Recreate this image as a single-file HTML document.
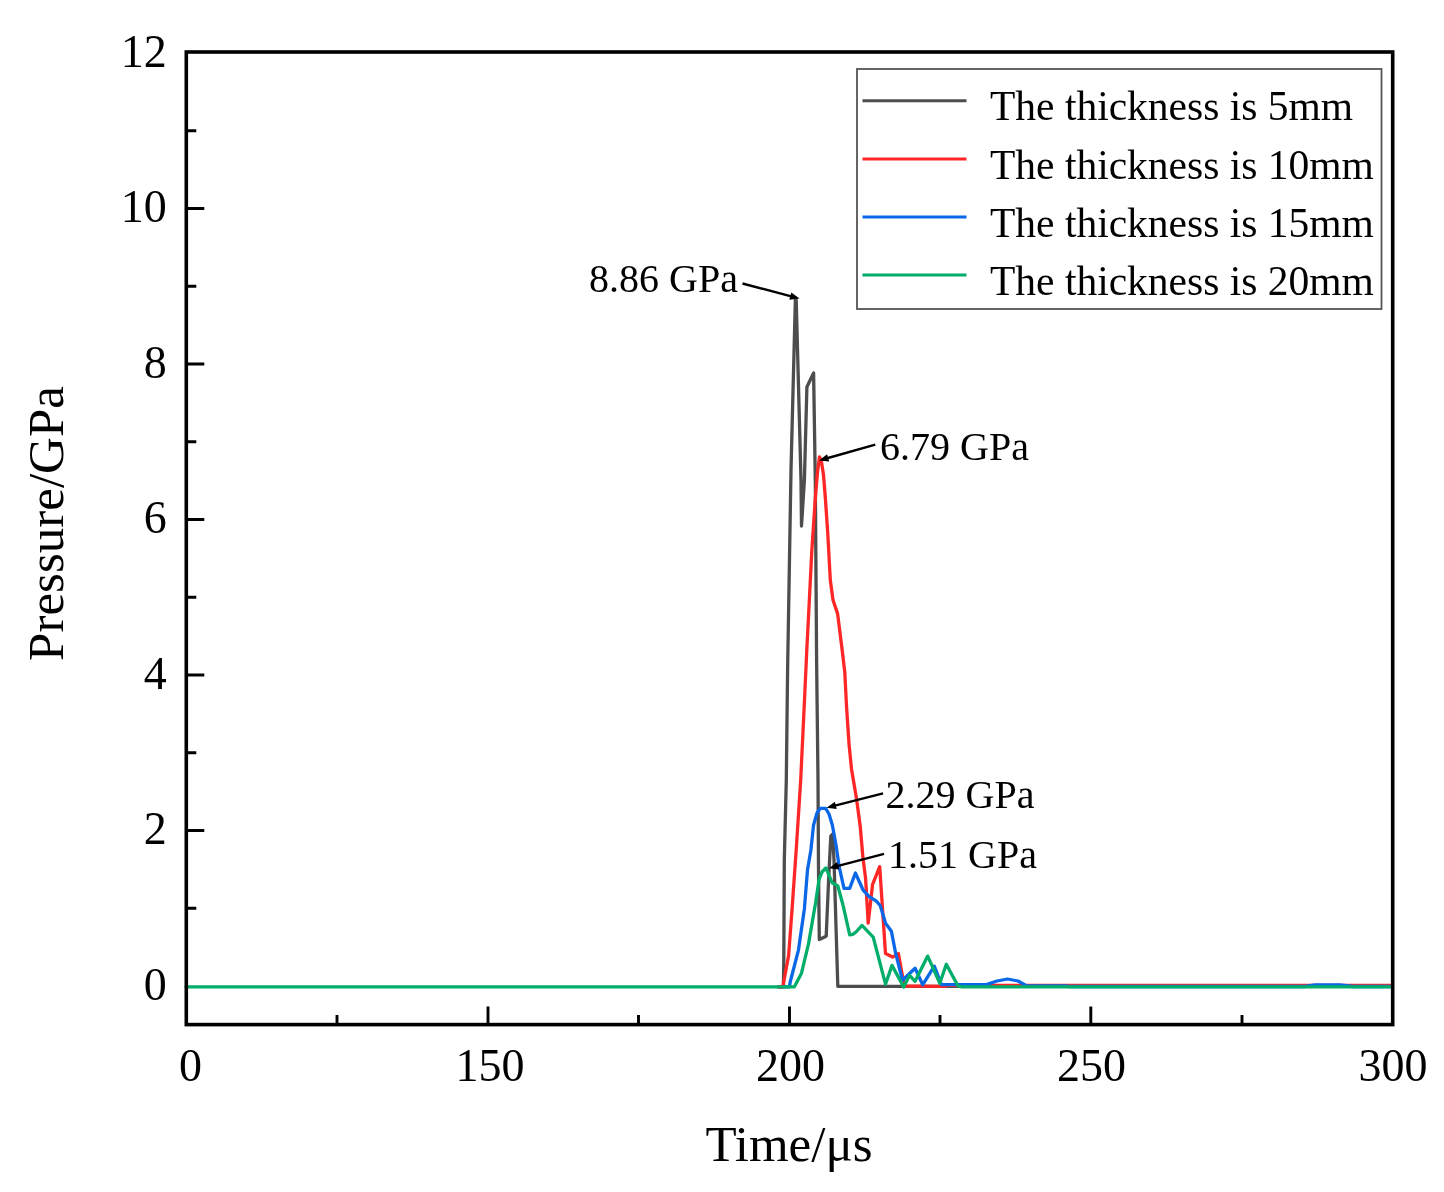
<!DOCTYPE html>
<html><head><meta charset="utf-8"><title>Pressure vs Time</title>
<style>
html,body{margin:0;padding:0;background:#fff;}
svg{display:block;filter:blur(0.45px);}
text{font-family:"Liberation Serif", "Times New Roman", serif;fill:#000;}
</style></head><body>
<svg width="1444" height="1192" viewBox="0 0 1444 1192">
<rect x="0" y="0" width="1444" height="1192" fill="#fff"/>

<g fill="none" stroke-width="3.3" stroke-linejoin="round" stroke-linecap="round">
<polyline points="778.0,986.8 783.4,986.8 783.8,960.0 784.3,860.0 786.3,780.0 787.6,670.0 791.0,470.0 795.4,298.0 796.2,300.0 801.0,480.0 801.5,526.0 804.4,480.0 806.9,387.0 813.6,373.0 815.3,480.0 816.6,660.0 818.0,780.0 818.5,870.0 819.3,939.6 826.2,936.3 828.6,880.0 830.8,836.0 832.6,834.0 834.0,860.0 837.8,986.3 965.0,986.3" stroke="#4d4d4d"/>
<polyline points="778.0,986.8 783.0,986.8 783.5,983.0 788.6,955.6 792.1,908.7 796.2,850.0 800.7,780.0 804.5,700.0 806.8,650.0 809.3,601.0 811.8,551.0 815.2,500.0 817.5,472.0 819.5,457.0 821.2,460.0 823.5,475.0 825.5,500.0 827.8,534.0 830.3,580.0 833.0,600.0 837.6,613.6 841.8,647.0 844.8,672.4 846.5,706.0 849.0,743.8 851.5,769.0 856.6,799.3 860.3,827.0 862.9,857.3 865.6,878.5 868.2,923.1 872.6,884.4 879.7,866.7 885.5,953.6 892.6,957.1 898.4,953.6 904.3,986.0 943.8,986.3 948.0,985.3 1391.0,985.3" stroke="#ff2626"/>
<polyline points="784.0,986.8 789.5,986.8 790.2,982.0 798.5,949.8 804.4,908.7 807.5,870.0 810.9,850.0 813.5,825.3 817.0,813.0 820.3,808.3 825.6,808.3 829.0,814.0 832.4,825.3 836.0,845.0 839.2,866.9 844.0,888.3 849.7,888.3 855.4,873.0 863.2,890.2 869.1,896.7 876.1,900.8 880.2,905.5 885.5,923.1 891.4,931.3 895.5,952.5 902.5,980.3 915.1,968.2 922.7,984.8 934.3,966.2 941.3,984.6 986.5,984.6 997.0,981.0 1007.6,979.0 1018.0,981.0 1026.4,985.6 1065.0,985.8 1070.0,986.5 1305.0,986.5 1315.0,984.8 1340.0,984.8 1353.0,986.5 1391.0,986.5" stroke="#0a68e8"/>
<polyline points="186.0,986.8 794.4,986.8 801.5,973.2 808.5,943.9 815.6,902.8 819.1,879.3 822.0,872.0 825.9,867.9 832.1,882.7 837.8,886.0 843.0,905.0 849.7,934.8 853.0,934.3 856.0,932.0 862.0,925.4 873.2,937.2 885.5,984.2 892.0,965.4 903.7,987.0 909.6,975.3 915.1,981.3 927.7,956.1 939.8,983.3 946.3,964.2 957.9,985.8 962.0,986.8 1391.0,986.8" stroke="#00ae6a"/>
</g>
<rect x="186.3" y="52.0" width="1206.4" height="972.6" fill="none" stroke="#000" stroke-width="3.6"/>
<path d="M186.3,908.2H196.3M186.3,830.5H204.3M186.3,752.8H196.3M186.3,675.0H204.3M186.3,597.2H196.3M186.3,519.5H204.3M186.3,441.8H196.3M186.3,364.0H204.3M186.3,286.2H196.3M186.3,208.5H204.3M186.3,130.8H196.3M488.0,1024.6V1006.6M789.5,1024.6V1006.6M1090.8,1024.6V1006.6M337.0,1024.6V1015.1M638.5,1024.6V1015.1M940.0,1024.6V1015.1M1242.0,1024.6V1015.1" stroke="#000" stroke-width="2.9" fill="none"/>
<text x="166.8" y="999.5" font-size="46" text-anchor="end">0</text>
<text x="166.8" y="844.0" font-size="46" text-anchor="end">2</text>
<text x="166.8" y="688.5" font-size="46" text-anchor="end">4</text>
<text x="166.8" y="533.0" font-size="46" text-anchor="end">6</text>
<text x="166.8" y="377.5" font-size="46" text-anchor="end">8</text>
<text x="166.8" y="222.0" font-size="46" text-anchor="end">10</text>
<text x="166.8" y="66.5" font-size="46" text-anchor="end">12</text>
<text x="190.6" y="1080.5" font-size="46" text-anchor="middle">0</text>
<text x="490" y="1080.5" font-size="46" text-anchor="middle">150</text>
<text x="790.5" y="1080.5" font-size="46" text-anchor="middle">200</text>
<text x="1091.5" y="1080.5" font-size="46" text-anchor="middle">250</text>
<text x="1393" y="1080.5" font-size="46" text-anchor="middle">300</text>
<text x="789" y="1161" font-size="51" text-anchor="middle">Time/μs</text>
<text transform="translate(62.5,523.5) rotate(-90)" x="0" y="0" font-size="51" text-anchor="middle">Pressure/GPa</text>
<rect x="857" y="69" width="524.5" height="240" fill="#fff" stroke="#555" stroke-width="1.8"/>
<line x1="862.5" y1="100.7" x2="966.5" y2="100.7" stroke="#4d4d4d" stroke-width="3"/>
<text x="990" y="120.2" font-size="41.5">The thickness is 5mm</text>
<line x1="862.5" y1="159" x2="966.5" y2="159" stroke="#ff2626" stroke-width="3"/>
<text x="990" y="178.5" font-size="41.5">The thickness is 10mm</text>
<line x1="862.5" y1="217" x2="966.5" y2="217" stroke="#0a68e8" stroke-width="3"/>
<text x="990" y="236.5" font-size="41.5">The thickness is 15mm</text>
<line x1="862.5" y1="275" x2="966.5" y2="275" stroke="#00ae6a" stroke-width="3"/>
<text x="990" y="294.5" font-size="41.5">The thickness is 20mm</text>
<line x1="742.5" y1="283.5" x2="792.2" y2="296.6" stroke="#000" stroke-width="2.4"/><polygon points="799.5,298.5 789.3,299.8 791.3,292.4" fill="#000"/>
<line x1="875.3" y1="444.7" x2="826.2" y2="458.5" stroke="#000" stroke-width="2.4"/><polygon points="819.0,460.5 827.1,454.3 829.2,461.6" fill="#000"/>
<line x1="883.1" y1="793.3" x2="833.9" y2="805.9" stroke="#000" stroke-width="2.4"/><polygon points="826.6,807.8 834.9,801.8 836.7,809.1" fill="#000"/>
<line x1="884" y1="853.9" x2="836.3" y2="866.3" stroke="#000" stroke-width="2.4"/><polygon points="829.0,868.2 837.2,862.1 839.2,869.5" fill="#000"/>
<text x="589" y="291.5" font-size="40">8.86 GPa</text>
<text x="880" y="460" font-size="40">6.79 GPa</text>
<text x="885.5" y="807.5" font-size="40">2.29 GPa</text>
<text x="888" y="868" font-size="40">1.51 GPa</text>
</svg></body></html>
